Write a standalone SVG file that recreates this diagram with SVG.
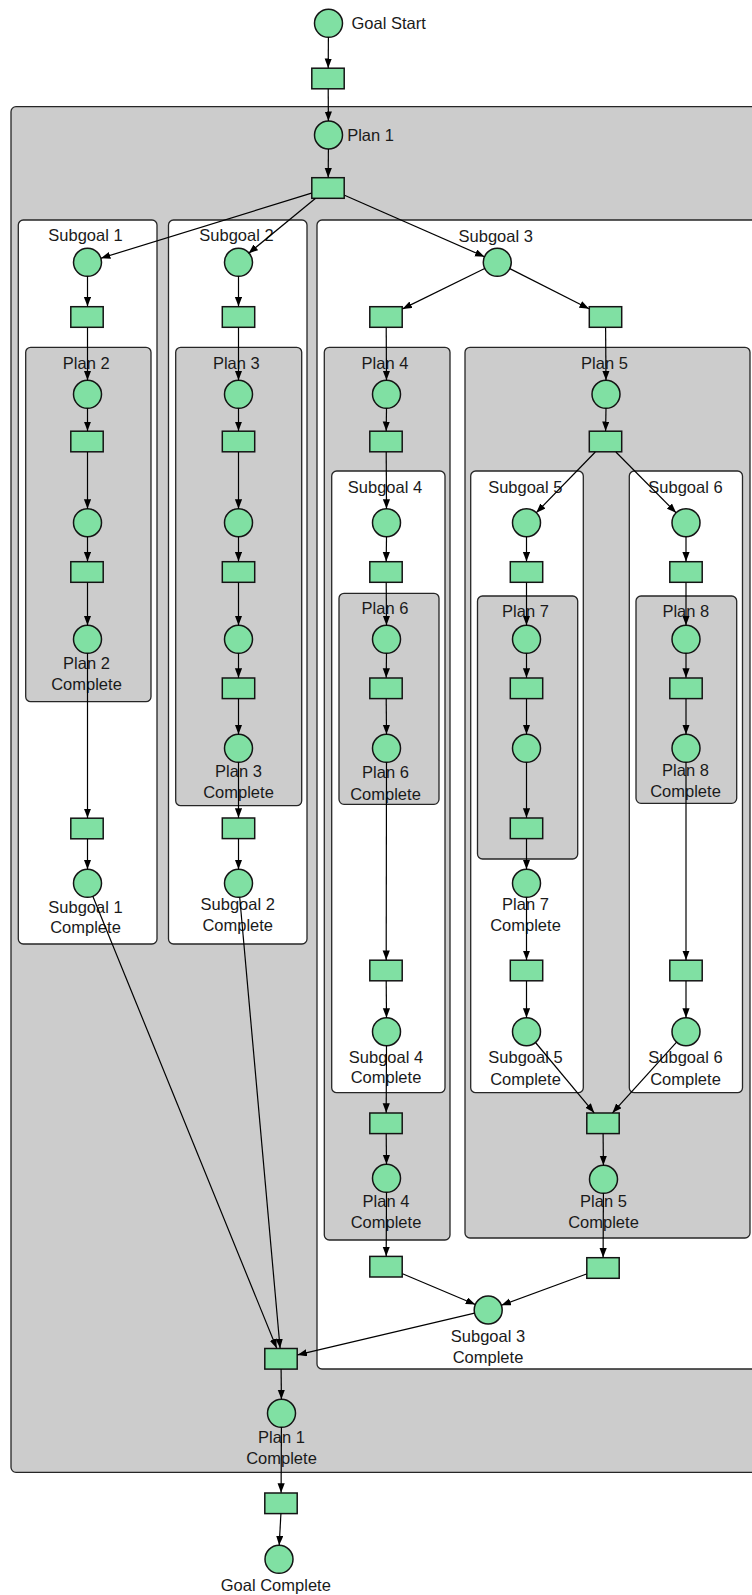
<svg xmlns="http://www.w3.org/2000/svg" width="752" height="1595" viewBox="0 0 752 1595">
  <style>
    .plan { fill: #cccccc; stroke: #262626; stroke-width: 1.3; }
    .sub { fill: #ffffff; stroke: #262626; stroke-width: 1.3; }
    .place { fill: #80e0a3; stroke: #141414; stroke-width: 1.5; }
    .trans { fill: #80e0a3; stroke: #141414; stroke-width: 1.5; }
    text { font-family: "Liberation Sans", Arial, Helvetica, sans-serif; font-size: 16.5px; fill: #1a1a1a; }
    .c { text-anchor: middle; }
    .edges line { stroke: #000; stroke-width: 1.2; fill: none; marker-end: url(#arrow); }
  </style>
  <defs>
    <marker id="arrow" markerUnits="userSpaceOnUse" markerWidth="11" markerHeight="8" refX="9.5" refY="3.6" orient="auto">
      <path d="M0,0 L9.5,3.6 L0,7.2 Z" fill="#000"/>
    </marker>
    <circle id="p" r="14" class="place"/>
    <rect id="t" x="-16.2" y="-10.3" width="32.4" height="20.6" class="trans"/>
  </defs>

  <!-- nested clusters: plans are grey, subgoals white -->
  <g id="clusters">
    <rect id="plan1" class="plan" x="11" y="106.7" width="760" height="1365.6" rx="5"/>
    <rect id="subgoal1" class="sub" x="18.3" y="220" width="138.7" height="724" rx="5"/>
    <rect id="plan2" class="plan" x="25.7" y="347.3" width="125.3" height="354.4" rx="5"/>
    <rect id="subgoal2" class="sub" x="168.5" y="220" width="138.5" height="724" rx="5"/>
    <rect id="plan3" class="plan" x="175.7" y="347.3" width="126" height="458.4" rx="5"/>
    <rect id="subgoal3" class="sub" x="317" y="220" width="460" height="1149" rx="5"/>
    <rect id="plan4" class="plan" x="324.3" y="347.3" width="125.7" height="892.7" rx="5"/>
    <rect id="subgoal4" class="sub" x="331.7" y="471" width="113.3" height="621.7" rx="5"/>
    <rect id="plan6" class="plan" x="339" y="593.3" width="100" height="211" rx="5"/>
    <rect id="plan5" class="plan" x="465" y="347.3" width="285" height="890.7" rx="5"/>
    <rect id="subgoal5" class="sub" x="470.7" y="471" width="112.6" height="621.7" rx="5"/>
    <rect id="plan7" class="plan" x="477.5" y="596" width="100.2" height="263" rx="5"/>
    <rect id="subgoal6" class="sub" x="629.3" y="471" width="113.2" height="621.7" rx="5"/>
    <rect id="plan8" class="plan" x="636" y="596" width="100.7" height="207.3" rx="5"/>

    <text class="c" x="85.5" y="241">Subgoal 1</text>
    <text class="c" x="236.5" y="241">Subgoal 2</text>
    <text class="c" x="495.7" y="241.7">Subgoal 3</text>
    <text class="c" x="86.2" y="369">Plan 2</text>
    <text class="c" x="236.3" y="369">Plan 3</text>
    <text class="c" x="385" y="369.3">Plan 4</text>
    <text class="c" x="604.5" y="369">Plan 5</text>
    <text class="c" x="385" y="492.7">Subgoal 4</text>
    <text class="c" x="525.3" y="492.7">Subgoal 5</text>
    <text class="c" x="685.5" y="492.7">Subgoal 6</text>
    <text class="c" x="385" y="614.3">Plan 6</text>
    <text class="c" x="525.5" y="617">Plan 7</text>
    <text class="c" x="685.8" y="617">Plan 8</text>
  </g>

  <!-- places (circles) and transitions (boxes) -->
  <g id="nodes">
    <g id="goal-start"><use href="#p" x="328.5" y="23.3"/><text x="351.5" y="29.3">Goal Start</text></g>
    <g id="t-start"><use href="#t" x="328" y="78.5"/></g>
    <g id="plan1-start"><use href="#p" x="328.5" y="135"/><text x="347.2" y="141">Plan 1</text></g>
    <g id="t-plan1"><use href="#t" x="328" y="188"/></g>

    <!-- subgoal 1 / plan 2 -->
    <g id="sg1-start"><use href="#p" x="87.5" y="262.3"/></g>
    <g id="t-sg1"><use href="#t" x="87" y="317"/></g>
    <g id="p2-a"><use href="#p" x="87.5" y="394.3"/></g>
    <g id="t-p2-a"><use href="#t" x="87" y="441.5"/></g>
    <g id="p2-b"><use href="#p" x="87.5" y="522.7"/></g>
    <g id="t-p2-b"><use href="#t" x="87" y="572"/></g>
    <g id="p2-done"><use href="#p" x="87.5" y="639.3"/><text class="c" x="86.5" y="669">Plan 2</text><text class="c" x="86.5" y="690">Complete</text></g>
    <g id="t-sg1-end"><use href="#t" x="87" y="828.5"/></g>
    <g id="sg1-done"><use href="#p" x="87.5" y="883.3"/><text class="c" x="85.5" y="912.7">Subgoal 1</text><text class="c" x="85.5" y="933.3">Complete</text></g>

    <!-- subgoal 2 / plan 3 -->
    <g id="sg2-start"><use href="#p" x="238.5" y="262.3"/></g>
    <g id="t-sg2"><use href="#t" x="238.5" y="317"/></g>
    <g id="p3-a"><use href="#p" x="238.5" y="394.3"/></g>
    <g id="t-p3-a"><use href="#t" x="238.5" y="441.5"/></g>
    <g id="p3-b"><use href="#p" x="238.5" y="522.7"/></g>
    <g id="t-p3-b"><use href="#t" x="238.5" y="572"/></g>
    <g id="p3-c"><use href="#p" x="238.5" y="639.3"/></g>
    <g id="t-p3-c"><use href="#t" x="238.5" y="688.3"/></g>
    <g id="p3-done"><use href="#p" x="238.5" y="748.3"/><text class="c" x="238.5" y="777">Plan 3</text><text class="c" x="238.5" y="798">Complete</text></g>
    <g id="t-sg2-end"><use href="#t" x="238.5" y="828.3"/></g>
    <g id="sg2-done"><use href="#p" x="238.5" y="883.3"/><text class="c" x="237.7" y="910">Subgoal 2</text><text class="c" x="237.7" y="931">Complete</text></g>

    <!-- subgoal 3 -->
    <g id="sg3-start"><use href="#p" x="497.3" y="262.3"/></g>
    <g id="t-sg3-left"><use href="#t" x="386" y="317"/></g>
    <g id="t-sg3-right"><use href="#t" x="605.5" y="317"/></g>

    <!-- plan 4 / subgoal 4 / plan 6 -->
    <g id="p4-start"><use href="#p" x="386.5" y="394.3"/></g>
    <g id="t-p4"><use href="#t" x="386" y="441.5"/></g>
    <g id="sg4-start"><use href="#p" x="386.5" y="522.7"/></g>
    <g id="t-sg4"><use href="#t" x="386" y="572"/></g>
    <g id="p6-start"><use href="#p" x="386.5" y="639.3"/></g>
    <g id="t-p6"><use href="#t" x="386" y="688.3"/></g>
    <g id="p6-done"><use href="#p" x="386.5" y="748.3"/><text class="c" x="385.5" y="778">Plan 6</text><text class="c" x="385.5" y="800.3">Complete</text></g>
    <g id="t-sg4-end"><use href="#t" x="386" y="970.5"/></g>
    <g id="sg4-done"><use href="#p" x="386.5" y="1031.7"/><text class="c" x="386" y="1062.7">Subgoal 4</text><text class="c" x="386" y="1083.3">Complete</text></g>
    <g id="t-p4-end"><use href="#t" x="386" y="1123.3"/></g>
    <g id="p4-done"><use href="#p" x="386.5" y="1178.3"/><text class="c" x="386" y="1206.7">Plan 4</text><text class="c" x="386" y="1228.3">Complete</text></g>
    <g id="t-sg3-a"><use href="#t" x="386" y="1266.7"/></g>

    <!-- plan 5 / subgoals 5 and 6 / plans 7 and 8 -->
    <g id="p5-start"><use href="#p" x="606" y="394.3"/></g>
    <g id="t-p5"><use href="#t" x="605.5" y="441.5"/></g>
    <g id="sg5-start"><use href="#p" x="526.5" y="522.7"/></g>
    <g id="t-sg5"><use href="#t" x="526.5" y="572"/></g>
    <g id="p7-a"><use href="#p" x="526.5" y="639.3"/></g>
    <g id="t-p7-a"><use href="#t" x="526.5" y="688.3"/></g>
    <g id="p7-b"><use href="#p" x="526.5" y="748.3"/></g>
    <g id="t-p7-b"><use href="#t" x="526.5" y="828.3"/></g>
    <g id="p7-done"><use href="#p" x="526.5" y="883.3"/><text class="c" x="525.5" y="910.3">Plan 7</text><text class="c" x="525.5" y="931.3">Complete</text></g>
    <g id="t-sg5-end"><use href="#t" x="526.5" y="970.5"/></g>
    <g id="sg5-done"><use href="#p" x="526.5" y="1031.7"/><text class="c" x="525.5" y="1063.3">Subgoal 5</text><text class="c" x="525.5" y="1085">Complete</text></g>

    <g id="sg6-start"><use href="#p" x="686" y="522.7"/></g>
    <g id="t-sg6"><use href="#t" x="686" y="572"/></g>
    <g id="p8-a"><use href="#p" x="686" y="639.3"/></g>
    <g id="t-p8"><use href="#t" x="686" y="688.3"/></g>
    <g id="p8-done"><use href="#p" x="686" y="748.3"/><text class="c" x="685.5" y="776">Plan 8</text><text class="c" x="685.5" y="797">Complete</text></g>
    <g id="t-sg6-end"><use href="#t" x="686" y="970.5"/></g>
    <g id="sg6-done"><use href="#p" x="686" y="1031.7"/><text class="c" x="685.5" y="1063.3">Subgoal 6</text><text class="c" x="685.5" y="1085">Complete</text></g>

    <g id="t-p5-end"><use href="#t" x="603" y="1123.3"/></g>
    <g id="p5-done"><use href="#p" x="603.5" y="1179.3"/><text class="c" x="603.5" y="1206.7">Plan 5</text><text class="c" x="603.5" y="1228.3">Complete</text></g>
    <g id="t-sg3-b"><use href="#t" x="603" y="1268"/></g>
    <g id="sg3-done"><use href="#p" x="488.2" y="1310"/><text class="c" x="488" y="1341.7">Subgoal 3</text><text class="c" x="488" y="1362.7">Complete</text></g>

    <!-- plan 1 completion and goal end -->
    <g id="t-plan1-end"><use href="#t" x="281" y="1358.8"/></g>
    <g id="plan1-done"><use href="#p" x="281.5" y="1413.3"/><text class="c" x="281.5" y="1443.3">Plan 1</text><text class="c" x="281.5" y="1464.3">Complete</text></g>
    <g id="t-goal-end"><use href="#t" x="281" y="1503.3"/></g>
    <g id="goal-done"><use href="#p" x="279" y="1559.3"/><text class="c" x="275.8" y="1591">Goal Complete</text></g>
  </g>

  <g id="connectors" class="edges">
    <line x1="328.4" y1="37.3" x2="328.2" y2="68"/>
    <line x1="328.2" y1="89" x2="328.4" y2="121"/>
    <line x1="328.4" y1="149" x2="328.2" y2="177.5"/>
    <line x1="311.5" y1="193.1" x2="100.9" y2="258.2"/>
    <line x1="315.3" y1="198.5" x2="248.5" y2="253.4"/>
    <line x1="344.5" y1="195.2" x2="484.5" y2="256.7"/>

    <line x1="87.5" y1="276.3" x2="87.5" y2="306.5"/>
    <line x1="87.5" y1="327.5" x2="87.5" y2="380.3"/>
    <line x1="87.5" y1="408.3" x2="87.5" y2="431"/>
    <line x1="87.5" y1="452" x2="87.5" y2="508.7"/>
    <line x1="87.5" y1="536.7" x2="87.5" y2="561.5"/>
    <line x1="87.5" y1="582.5" x2="87.5" y2="625.3"/>
    <line x1="87.5" y1="653.3" x2="87.5" y2="818"/>
    <line x1="87.5" y1="839" x2="87.5" y2="869.3"/>

    <line x1="238.5" y1="276.3" x2="238.5" y2="306.5"/>
    <line x1="238.5" y1="327.5" x2="238.5" y2="380.3"/>
    <line x1="238.5" y1="408.3" x2="238.5" y2="431"/>
    <line x1="238.5" y1="452" x2="238.5" y2="508.7"/>
    <line x1="238.5" y1="536.7" x2="238.5" y2="561.5"/>
    <line x1="238.5" y1="582.5" x2="238.5" y2="625.3"/>
    <line x1="238.5" y1="653.3" x2="238.5" y2="677.8"/>
    <line x1="238.5" y1="698.8" x2="238.5" y2="734.3"/>
    <line x1="238.5" y1="762.3" x2="238.5" y2="817.8"/>
    <line x1="238.5" y1="838.8" x2="238.5" y2="869.3"/>

    <line x1="484.7" y1="268.5" x2="402.5" y2="308.9"/>
    <line x1="509.8" y1="268.6" x2="589" y2="308.7"/>

    <line x1="386.2" y1="327.5" x2="386.5" y2="380.3"/>
    <line x1="386.5" y1="408.3" x2="386.2" y2="431"/>
    <line x1="386.2" y1="452" x2="386.5" y2="508.7"/>
    <line x1="386.5" y1="536.7" x2="386.2" y2="561.5"/>
    <line x1="386.2" y1="582.5" x2="386.5" y2="625.3"/>
    <line x1="386.5" y1="653.3" x2="386.2" y2="677.8"/>
    <line x1="386.2" y1="698.8" x2="386.5" y2="734.3"/>
    <line x1="386.5" y1="762.3" x2="386.2" y2="960"/>
    <line x1="386.2" y1="981" x2="386.5" y2="1017.7"/>
    <line x1="386.5" y1="1045.7" x2="386.2" y2="1112.8"/>
    <line x1="386.2" y1="1133.8" x2="386.5" y2="1164.3"/>
    <line x1="386.5" y1="1192.3" x2="386.2" y2="1256.2"/>

    <line x1="605.6" y1="327.5" x2="606" y2="380.3"/>
    <line x1="606" y1="408.3" x2="605.6" y2="431"/>
    <line x1="595.3" y1="452" x2="536.3" y2="512.7"/>
    <line x1="615.9" y1="452" x2="676.1" y2="512.8"/>

    <line x1="526.5" y1="536.7" x2="526.5" y2="561.5"/>
    <line x1="526.5" y1="582.5" x2="526.5" y2="625.3"/>
    <line x1="526.5" y1="653.3" x2="526.5" y2="677.8"/>
    <line x1="526.5" y1="698.8" x2="526.5" y2="734.3"/>
    <line x1="526.5" y1="762.3" x2="526.5" y2="817.8"/>
    <line x1="526.5" y1="838.8" x2="526.5" y2="869.3"/>
    <line x1="526.5" y1="897.3" x2="526.5" y2="960"/>
    <line x1="526.5" y1="981" x2="526.5" y2="1017.7"/>

    <line x1="686" y1="536.7" x2="686" y2="561.5"/>
    <line x1="686" y1="582.5" x2="686" y2="625.3"/>
    <line x1="686" y1="653.3" x2="686" y2="677.8"/>
    <line x1="686" y1="698.8" x2="686" y2="734.3"/>
    <line x1="686" y1="762.3" x2="686" y2="960"/>
    <line x1="686" y1="981" x2="686" y2="1017.7"/>

    <line x1="535.5" y1="1042.5" x2="594.2" y2="1112.8"/>
    <line x1="676.6" y1="1042.1" x2="612.5" y2="1112.8"/>
    <line x1="603.1" y1="1133.8" x2="603.4" y2="1165.3"/>
    <line x1="603.4" y1="1193.3" x2="603.1" y2="1257.5"/>

    <line x1="402.5" y1="1273.7" x2="475.3" y2="1304.5"/>
    <line x1="586.5" y1="1274" x2="501.4" y2="1305.2"/>

    <line x1="92.8" y1="896.3" x2="276.7" y2="1348.3"/>
    <line x1="239.7" y1="897.3" x2="280.1" y2="1348.3"/>
    <line x1="474.6" y1="1313.2" x2="297.5" y2="1354.9"/>

    <line x1="281.1" y1="1369.3" x2="281.4" y2="1399.3"/>
    <line x1="281.4" y1="1427.3" x2="281.1" y2="1492.8"/>
    <line x1="280.9" y1="1513.8" x2="279.2" y2="1545.3"/>
  </g>
</svg>
